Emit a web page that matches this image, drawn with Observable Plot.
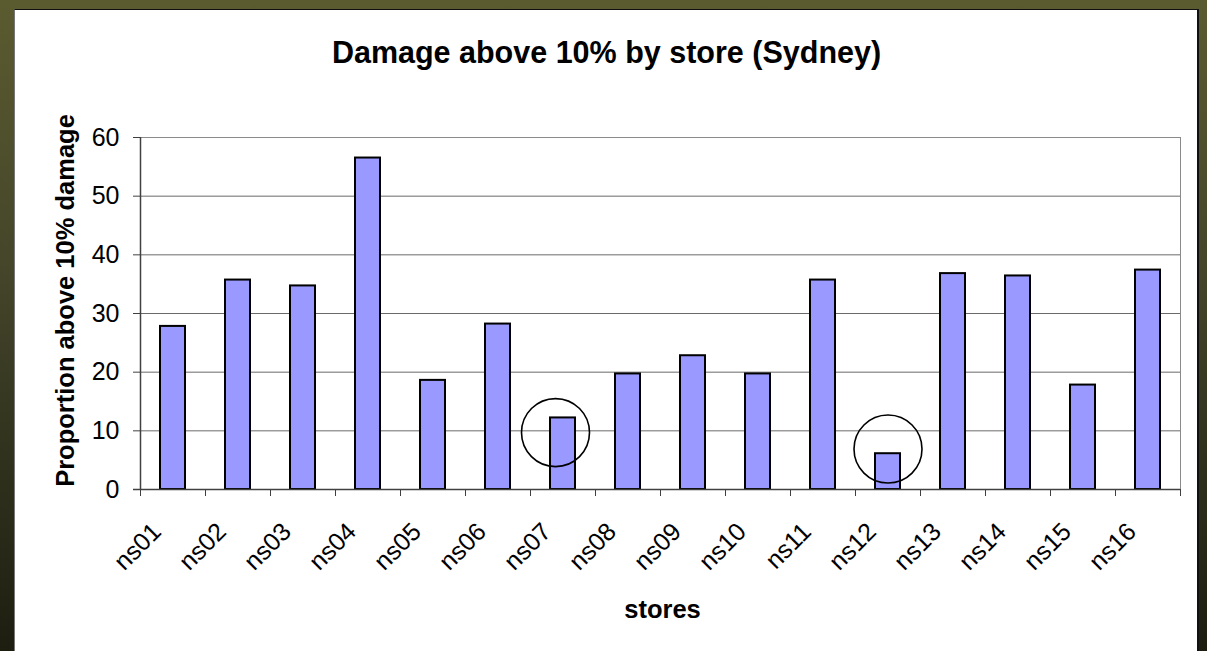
<!DOCTYPE html>
<html>
<head>
<meta charset="utf-8">
<script src="https://cdn.jsdelivr.net/npm/d3@7"></script>
<script src="https://cdn.jsdelivr.net/npm/@observablehq/plot@0.6"></script>
<style>
  html, body { margin: 0; padding: 0; }
  body {
    width: 1207px; height: 651px; overflow: hidden; position: relative;
    background: linear-gradient(to bottom, #5b5b30 0%, #45462a 40%, #1d1e10 100%);
    font-family: "Liberation Sans", Arial, sans-serif;
  }
  #panel {
    position: absolute; left: 14px; top: 9px; width: 1185px; height: 660px;
    background: #fff; box-sizing: border-box;
    border-top: 1.5px solid #111; border-right: 2px solid #111; border-left: 1px solid #777;
  }
  #title {
    position: absolute; left: 14px; top: 34px; width: 1185px; z-index: 2;
    text-align: center; font-weight: bold; font-size: 30.5px; line-height: 36px; color: #000;
  }
  #chart { position: absolute; left: 0; top: 0; z-index: 1; }
</style>
</head>
<body>
<div id="panel"></div>
<div id="title">Damage above 10% by store (Sydney)</div>
<div id="chart"></div>
<script>
// Share of items with more than 10% damage, per store
const stores = ["ns01", "ns02", "ns03", "ns04", "ns05", "ns06", "ns07", "ns08",
                "ns09", "ns10", "ns11", "ns12", "ns13", "ns14", "ns15", "ns16"];
const damage = [27.8, 35.7, 34.7, 56.5, 18.6, 28.2, 12.2, 19.7,
                22.8, 19.7, 35.7, 6.1, 36.8, 36.4, 17.8, 37.4];
const yTicks = [0, 10, 20, 30, 40, 50, 60];

// Stores singled out with a ring, and the level the ring is centred on
const circledStores = ["ns07", "ns12"];
const circledLevels = [9.7, 6.9];

const yLabel = "Proportion above 10% damage";
const xLabel = "stores";

const rows = stores.map((store, i) => ({store, value: damage[i]}));
const rings = circledStores.map((store, i) => ({store, level: circledLevels[i]}));

const axisColor = "#404040";
const font = "'Liberation Sans', Arial, sans-serif";

const chart = Plot.plot({
  width: 1207,
  height: 651,
  marginLeft: 140,
  marginRight: 27,
  marginTop: 137,
  marginBottom: 162,
  style: {background: "transparent", fontFamily: font, color: "#000", overflow: "visible"},
  x: {type: "band", domain: stores, paddingInner: 0.615, paddingOuter: 0.3075, axis: null},
  y: {domain: [0, 60], axis: null},
  marks: [
    Plot.gridY(yTicks, {stroke: "#6a6a6a", strokeOpacity: 1}),
    Plot.frame({stroke: "#8a8a8a"}),
    Plot.barY(rows, {x: "store", y: "value", fill: "#9999ff", stroke: "#000", strokeWidth: 2}),
    Plot.ruleY([0], {stroke: axisColor, strokeWidth: 1.5, insetLeft: -7}),
    Plot.ruleX([stores[0]], {dx: -32.5, stroke: axisColor, strokeWidth: 1.5}),
    Plot.axisY(yTicks, {tickSize: 7, tickPadding: 14, fontSize: 25, stroke: axisColor, fill: "#000", label: null}),
    // category separators sit between the bars
    Plot.axisX(stores, {tickSize: 7, text: null, dx: -32.5, stroke: axisColor, label: null}),
    Plot.axisX([stores[stores.length - 1]], {tickSize: 7, text: null, dx: 32.5, stroke: axisColor, label: null}),
    Plot.axisX(stores, {tickSize: 0, tickPadding: 0, tickRotate: -45, fontSize: 25, fill: "#000", dx: -16, dy: 38, label: null}),
    Plot.text([yLabel], {frameAnchor: "left", rotate: -90, dx: -67, dy: -13, textAnchor: "middle", lineAnchor: "bottom", fontSize: 25.5, fontWeight: "bold", fill: "#000"}),
    Plot.text([xLabel], {frameAnchor: "bottom", dx: 2, dy: 128, textAnchor: "middle", lineAnchor: "bottom", fontSize: 25.5, fontWeight: "bold", fill: "#000"}),
    Plot.dot([rings[0]], {x: "store", y: "level", r: 34, dx: -7.5, stroke: "#000", strokeWidth: 1.6, fill: "none"}),
    Plot.dot([rings[1]], {x: "store", y: "level", r: 34, stroke: "#000", strokeWidth: 1.6, fill: "none"})
  ]
});

document.getElementById("chart").appendChild(chart);
</script>
</body>
</html>
